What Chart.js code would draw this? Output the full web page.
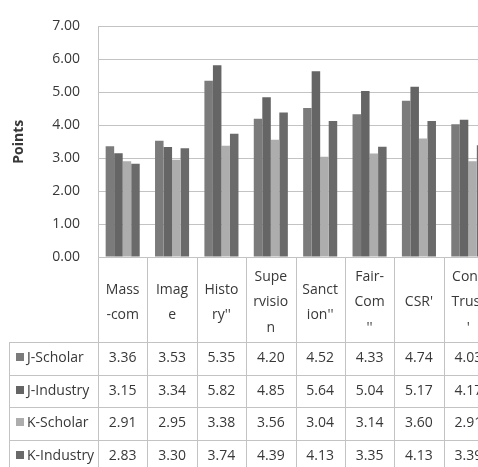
<!DOCTYPE html>
<html>
<head>
<meta charset="utf-8">
<script src="https://cdn.jsdelivr.net/npm/chart.js@4.4.1/dist/chart.umd.min.js"></script>
<style>
  html, body { margin: 0; padding: 0; background: #fff; overflow: hidden; width: 478px; height: 467px; }
  #wrap { position: absolute; left: 0; top: 0; width: 500px; height: 480px; }
</style>
</head>
<body>
<div id="wrap"><canvas id="c" width="500" height="480"></canvas></div>
<script>
// Category headers (wrapped as in the data table)
const categories = [
  ["Mass", "-com"],
  ["Imag", "e"],
  ["Histo", "ry''"],
  ["Supe", "rvisio", "n"],
  ["Sanct", "ion''"],
  ["Fair-", "Com", "''"],
  "CSR'",
  ["Cons", "Trust", "'"]
];
const seriesNames = ["J-Scholar", "J-Industry", "K-Scholar", "K-Industry"];
const jScholar  = [3.36, 3.53, 5.35, 4.20, 4.52, 4.33, 4.74, 4.03];
const jIndustry = [3.15, 3.34, 5.82, 4.85, 5.64, 5.04, 5.17, 4.17];
const kScholar  = [2.91, 2.95, 3.38, 3.56, 3.04, 3.14, 3.60, 2.91];
const kIndustry = [2.83, 3.30, 3.74, 4.39, 4.13, 3.35, 4.13, 3.39];
const yMin = 0, yMax = 7, yStep = 1;
const axisTitle = "Points";

const seriesValues = [jScholar, jIndustry, kScholar, kIndustry];
const seriesColors = ["#7b7b7b", "#656565", "#adadad", "#6a6a6a"];

const FONT = "'Open Sans', 'Noto Sans', sans-serif";
const TEXT = "#383838";
const LINE = "#c3c3c3";
const ROW_H = 32.5;

// Data table drawn under the category header row
const dataTable = {
  id: 'dataTable',
  afterDraw(chart) {
    const { ctx } = chart;
    const x = chart.scales.x;
    const n = chart.data.labels.length;
    const step = (x.right - x.left) / n;
    const top = x.bottom;
    const rows = chart.data.datasets.length;
    const bottom = top + ROW_H * rows;
    const tableLeft = 9;
    ctx.save();
    ctx.strokeStyle = LINE;
    ctx.lineWidth = 1;
    ctx.beginPath();
    for (let i = 0; i <= n; i++) {
      const px = Math.round(x.left + i * step) + 0.5;
      ctx.moveTo(px, x.top);
      ctx.lineTo(px, bottom);
    }
    for (let r = 0; r <= rows; r++) {
      const py = Math.round(top + r * ROW_H) + 0.5;
      ctx.moveTo(tableLeft + 0.5, py);
      ctx.lineTo(x.right, py);
    }
    ctx.moveTo(tableLeft + 0.5, top);
    ctx.lineTo(tableLeft + 0.5, bottom);
    ctx.stroke();

    ctx.font = "14px " + FONT;
    ctx.textBaseline = 'middle';
    chart.data.datasets.forEach((ds, r) => {
      const cy = top + r * ROW_H + ROW_H / 2;
      ctx.fillStyle = ds.backgroundColor;
      ctx.fillRect(16, Math.round(cy) - 5, 8, 8);
      ctx.fillStyle = TEXT;
      ctx.textAlign = 'left';
      ctx.fillText(ds.label, 27, cy);
      ctx.textAlign = 'center';
      ds.data.forEach((v, i) => {
        ctx.fillText(v.toFixed(2), x.getPixelForTick(i), cy);
      });
    });
    ctx.restore();
  }
};

new Chart(document.getElementById('c'), {
  type: 'bar',
  data: {
    labels: categories,
    datasets: seriesNames.map((name, i) => ({
      label: name,
      data: seriesValues[i],
      backgroundColor: seriesColors[i],
      borderWidth: 0,
      categoryPercentage: 0.69,
      barPercentage: 1.0
    }))
  },
  options: {
    responsive: false,
    animation: false,
    devicePixelRatio: 1,
    layout: { padding: { top: 20, left: 0, right: 7, bottom: 138 } },
    plugins: { legend: { display: false }, tooltip: { enabled: false } },
    scales: {
      x: {
        grid: { display: false },
        border: { display: false },
        ticks: {
          color: TEXT,
          font: { family: FONT, size: 14, lineHeight: '25.5px' },
          crossAlign: 'center',
          maxRotation: 0,
          autoSkip: false,
          padding: 12
        },
        afterFit(scale) { scale.height = 85; }
      },
      y: {
        min: yMin,
        max: yMax,
        grid: { color: LINE, drawTicks: false },
        border: { display: true, color: LINE },
        ticks: {
          stepSize: yStep,
          color: TEXT,
          font: { family: FONT, size: 14 },
          padding: 18,
          callback: v => Number(v).toFixed(2)
        },
        title: {
          display: true,
          text: axisTitle,
          color: TEXT,
          font: { family: FONT, size: 14, weight: 'bold' },
          padding: { top: 11, bottom: 0 }
        },
        afterFit(scale) { scale.width = 98; }
      }
    }
  },
  plugins: [dataTable]
});
</script>
</body>
</html>
